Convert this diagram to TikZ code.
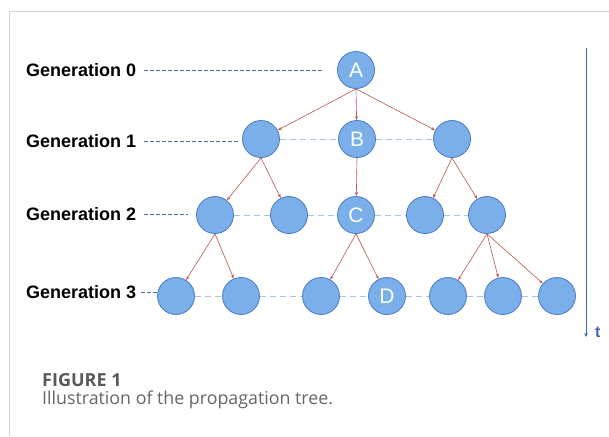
\documentclass[tikz,border=0pt]{standalone}
\usepackage{fontspec}
\setmainfont{Liberation Sans}
\newfontfamily\capfont{Open Sans}
\usetikzlibrary{arrows.meta}
\definecolor{nodefill}{HTML}{7BAFE9}
\definecolor{nodeedge}{HTML}{4A7BC2}
\definecolor{edgered}{HTML}{B8574F}
\definecolor{gendash}{HTML}{4F6DAE}
\definecolor{sibdash}{HTML}{A9C3E6}
\definecolor{axisblue}{HTML}{3C63C4}
\definecolor{framegray}{HTML}{D4D4D4}
\tikzset{
  person/.style={circle, draw=nodeedge, line width=0.8pt, fill=nodefill,
    minimum size=37pt, inner sep=0pt, text=white, font=\fontsize{21}{21}\selectfont},
  genlabel/.style={anchor=west, inner sep=0pt, font=\fontsize{18}{18}\selectfont\bfseries},
  edge/.style={draw=edgered, line width=0.6pt, -{Stealth[length=4pt,width=3pt]}},
  gendashed/.style={draw=gendash, line width=0.8pt, dash pattern=on 3.5pt off 2.5pt},
  sibdashed/.style={draw=sibdash, line width=1pt, dash pattern=on 6pt off 4pt},
}
\begin{document}
\begin{tikzpicture}[x=1pt, y=-1pt]
  \useasboundingbox (0,0) rectangle (609,436);
  % page frame
  \draw[framegray, line width=1pt] (9,436) -- (9,12) -- (609,12);

  % generation labels
  \node[genlabel] (l0) at (26,70) {Generation 0};
  \node[genlabel] (l1) at (26,141) {Generation 1};
  \node[genlabel] (l2) at (26,214) {Generation 2};
  \node[genlabel] (l3) at (26,292) {Generation 3};

  % generation 0
  \node[person] (A) at (356,70) {A};
  % generation 1
  \node[person] (g1a) at (261,139) {};
  \node[person] (B) at (357,139) {B};
  \node[person] (g1c) at (452,139) {};
  % generation 2
  \node[person] (g2a) at (215,215) {};
  \node[person] (g2b) at (289,215) {};
  \node[person] (C) at (356,215) {C};
  \node[person] (g2d) at (425,215) {};
  \node[person] (g2e) at (487,215) {};
  % generation 3
  \node[person] (g3a) at (176,296) {};
  \node[person] (g3b) at (241,296) {};
  \node[person] (g3c) at (321,296) {};
  \node[person] (D) at (387,296) {D};
  \node[person] (g3e) at (448,296) {};
  \node[person] (g3f) at (503,296) {};
  \node[person] (g3g) at (557,296) {};

  % label leaders, kept level with each label
  \draw[gendashed] ([xshift=8pt]l0.east) -- ([xshift=-15pt]A.west);
  \draw[gendashed] ([xshift=8pt]l1.east) -- ([xshift=-4pt]g1a.west |- l1.east);
  \draw[gendashed] ([xshift=8pt]l2.east) -- ([xshift=-8pt]g2a.west |- l2.east);
  \draw[gendashed] ([xshift=5pt]l3.east) -- (g3a.west |- l3.east);

  % sibling links
  \draw[sibdashed] (g1a) -- (B);
  \draw[sibdashed] (B) -- (g1c);
  \draw[sibdashed] (g2a) -- (g2b);
  \draw[sibdashed] (g2b) -- (C);
  \draw[sibdashed] (C) -- (g2d);
  \draw[sibdashed] (g2d) -- (g2e);
  \draw[sibdashed] (g3a) -- (g3b);
  \draw[sibdashed] (g3b) -- (g3c);
  \draw[sibdashed] (g3c) -- (D);
  \draw[sibdashed] (D) -- (g3e);
  \draw[sibdashed] (g3e) -- (g3f);
  \draw[sibdashed] (g3f) -- (g3g);

  % propagation edges
  \draw[edge] (A.south) -- (g1a);
  \draw[edge] (A.south) -- (B);
  \draw[edge] (A.south) -- (g1c);
  \draw[edge] (g1a.south) -- (g2a);
  \draw[edge] (g1a.south) -- (g2b);
  \draw[edge] (B.south) -- (C);
  \draw[edge] (g1c.south) -- (g2d);
  \draw[edge] (g1c.south) -- (g2e);
  \draw[edge] (g2a.south) -- (g3a);
  \draw[edge] (g2a.south) -- (g3b);
  \draw[edge] (C.south) -- (g3c);
  \draw[edge] (C.south) -- (D);
  \draw[edge] (g2e.south) -- (g3e);
  \draw[edge] (g2e.south) -- (g3f);
  \draw[edge] (g2e.south) -- (g3g);

  % time axis
  \coordinate (tstart) at (586,48);
  \coordinate (tend) at (586,337);
  \draw[axisblue, line width=0.9pt, -{Stealth[length=4pt,width=3.5pt]}] (tstart) -- (tend);
  \node[text=axisblue, font=\fontsize{16}{16}\selectfont\bfseries, anchor=west, inner sep=0pt] (tlab) at (595,332) {t};

  % caption
  \node[anchor=west, inner sep=0pt, text=black!65, font=\capfont\fontsize{18}{18}\selectfont\bfseries] (fig) at (42,380) {FIGURE 1};
  \node[anchor=west, inner sep=0pt, text=black!60, font=\capfont\fontsize{17.8}{17.8}\selectfont] (cap) at (42,400) {Illustration of the propagation tree.};
\end{tikzpicture}
\end{document}
